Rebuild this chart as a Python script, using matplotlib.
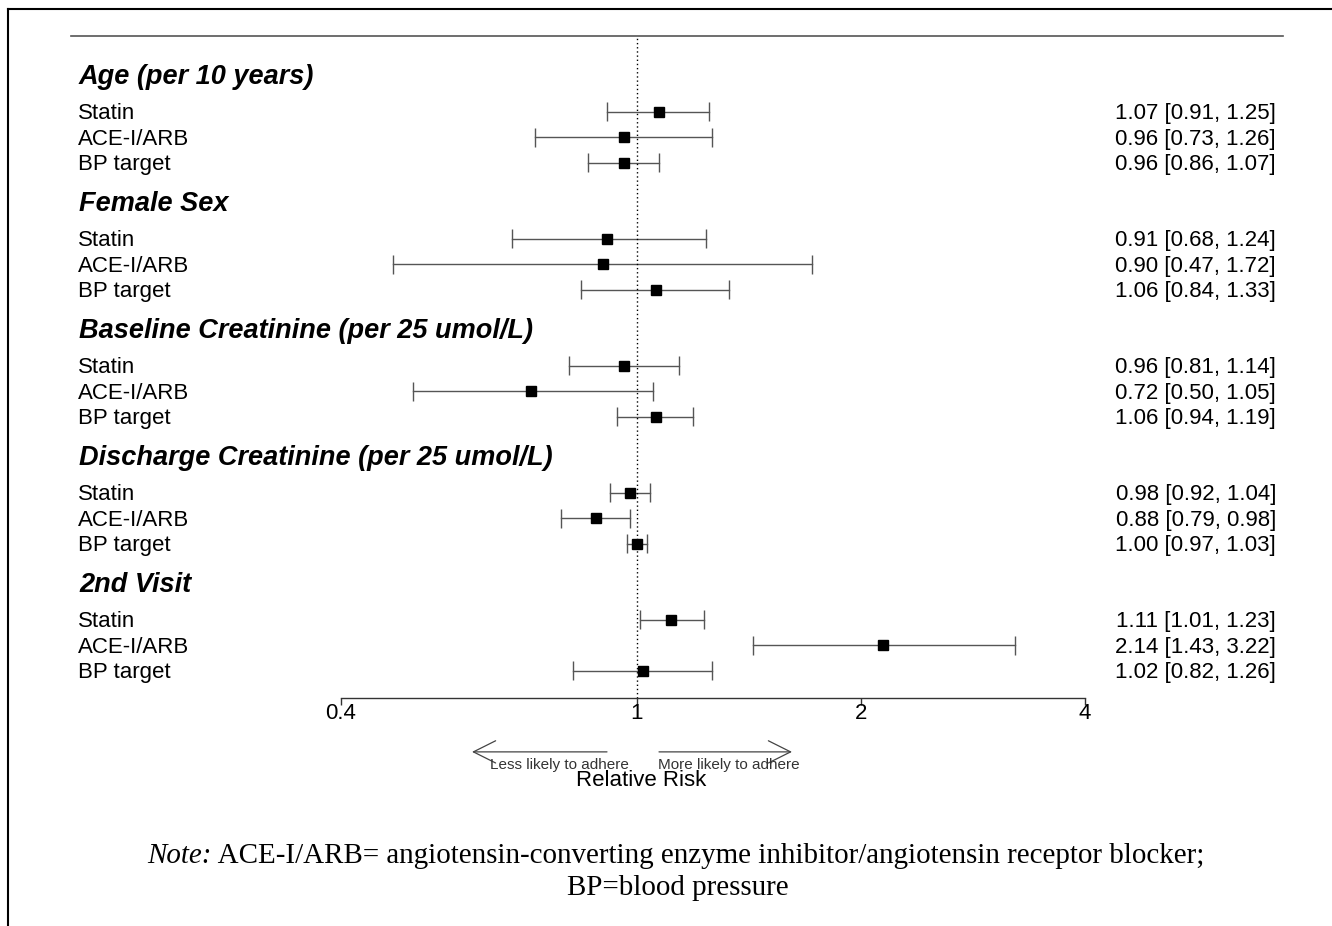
import numpy as np
import matplotlib
matplotlib.use("Agg")
import matplotlib.pyplot as plt
from matplotlib.lines import Line2D
from matplotlib import transforms

# ---- data ----
groups = ["Age (per 10 years)", "Female Sex", "Baseline Creatinine (per 25 umol/L)",
          "Discharge Creatinine (per 25 umol/L)", "2nd Visit"]
outcomes = ["Statin", "ACE-I/ARB", "BP target"]
est = [[1.07, 0.96, 0.96],
       [0.91, 0.90, 1.06],
       [0.96, 0.72, 1.06],
       [0.98, 0.88, 1.00],
       [1.11, 2.14, 1.02]]
lo = [[0.91, 0.73, 0.86],
      [0.68, 0.47, 0.84],
      [0.81, 0.50, 0.94],
      [0.92, 0.79, 0.97],
      [1.01, 1.43, 0.82]]
hi = [[1.25, 1.26, 1.07],
      [1.24, 1.72, 1.33],
      [1.14, 1.05, 1.19],
      [1.04, 0.98, 1.03],
      [1.23, 3.22, 1.26]]
ticks = [0.4, 1, 2, 4]
tick_labels = ["0.4", "1", "2", "4"]

W, H = 1332, 926
SANS = "Liberation Sans"
SERIF = "Liberation Serif"

fig = plt.figure(figsize=(W / 100, H / 100), dpi=100)
ax = fig.add_axes([0, 0, 1, 1])
ax.set_xscale("log")
# pixel x = 637 + 323*ln(v); rows are 25.4 px apart, y=0 at pixel 696
ax.set_xlim(np.exp(-637 / 323), np.exp((W - 637) / 323))
ax.set_ylim(-(H - 696) / 25.4, 696 / 25.4)
ax.axis("off")

# x in axes fraction, y in data
bt = transforms.blended_transform_factory(ax.transAxes, ax.transData)

ci_col = "#555555"
cap = 0.37
dy = -0.08  # nudge text down to line up with the marks
for g, name in enumerate(groups):
    top = 23 - 5 * g
    ax.text(79 / W, top + 1.5 + dy - 0.04, name, transform=bt, fontsize=19.5,
            family=SANS, fontweight="bold", fontstyle="italic", va="center", ha="left")
    for k, lab in enumerate(outcomes):
        y = top - k
        e, l, h = est[g][k], lo[g][k], hi[g][k]
        ax.plot([l, h], [y, y], color=ci_col, lw=1.0, zorder=2)
        ax.vlines([l, h], y - cap, y + cap, color=ci_col, lw=1.0, zorder=2)
        ax.plot(e, y, marker="s", color="black", markersize=7.5, zorder=3)
        ax.text(78 / W, y + dy, lab, transform=bt, fontsize=16, family=SANS,
                va="center", ha="left")
        ax.text(1276 / W, y + dy, f"{e:.2f} [{l:.2f}, {h:.2f}]", transform=bt,
                fontsize=16, family=SANS, va="center", ha="right")

# top rule and reference line
ax.plot([71 / W, 1283 / W], [26, 26], transform=bt, color="#555555", lw=1.2)
ax.vlines(1, -0.08, 26, color="black", lw=1.0, linestyles=(0, (1, 2)))

# x axis
ax_y = -0.08
ax.plot([ticks[0], ticks[-1]], [ax_y, ax_y], color="#333333", lw=1.0)
ax.vlines(ticks, ax_y - 7 / 25.4, ax_y, color="#333333", lw=1.0)
for t, tl in zip(ticks, tick_labels):
    ax.text(t, -0.7, tl, ha="center", va="center", fontsize=16, family=SANS)

# direction arrows
arr = dict(arrowstyle="->,head_length=0.8,head_width=0.4", color="#444444",
           lw=0.9, mutation_scale=20, shrinkA=0, shrinkB=0)
ax.annotate("", xy=(472 / W, -2.2), xytext=(607 / W, -2.2),
            xycoords=bt, textcoords=bt, arrowprops=arr)
ax.annotate("", xy=(792 / W, -2.2), xytext=(659 / W, -2.2),
            xycoords=bt, textcoords=bt, arrowprops=arr)
ax.text(559 / W, -2.72, "Less likely to adhere", transform=bt, ha="center",
        va="center", fontsize=11, family=SANS, color="#333333")
ax.text(729 / W, -2.72, "More likely to adhere", transform=bt, ha="center",
        va="center", fontsize=11, family=SANS, color="#333333")
ax.text(641 / W, -3.32, "Relative Risk", transform=bt, ha="center",
        va="center", fontsize=16, family=SANS)

# note: italic "Note:" followed by plain text, centred as one line
note_y = 1 - 856 / H
n1 = fig.text(0, note_y, "Note:", ha="left", va="center", fontsize=20.9,
              family=SERIF, fontstyle="italic")
n2 = fig.text(0, note_y,
              " ACE-I/ARB= angiotensin-converting enzyme inhibitor/angiotensin receptor blocker;",
              ha="left", va="center", fontsize=20.9, family=SERIF)
fig.canvas.draw()
r = fig.canvas.get_renderer()
w1 = n1.get_window_extent(r).width
w2 = n2.get_window_extent(r).width
x0 = 676 - (w1 + w2) / 2
n1.set_x(x0 / W)
n2.set_x((x0 + w1) / W)
fig.text(678 / W, 1 - 888 / H, "BP=blood pressure", ha="center", va="center",
         fontsize=20.9, family=SERIF)

# partial frame (top and left)
fig.add_artist(Line2D([8 / W, 1], [1 - 9 / H, 1 - 9 / H], color="black", lw=1.5))
fig.add_artist(Line2D([8 / W, 8 / W], [0, 1 - 9 / H], color="black", lw=1.5))

fig.savefig("out.png", dpi=100)
